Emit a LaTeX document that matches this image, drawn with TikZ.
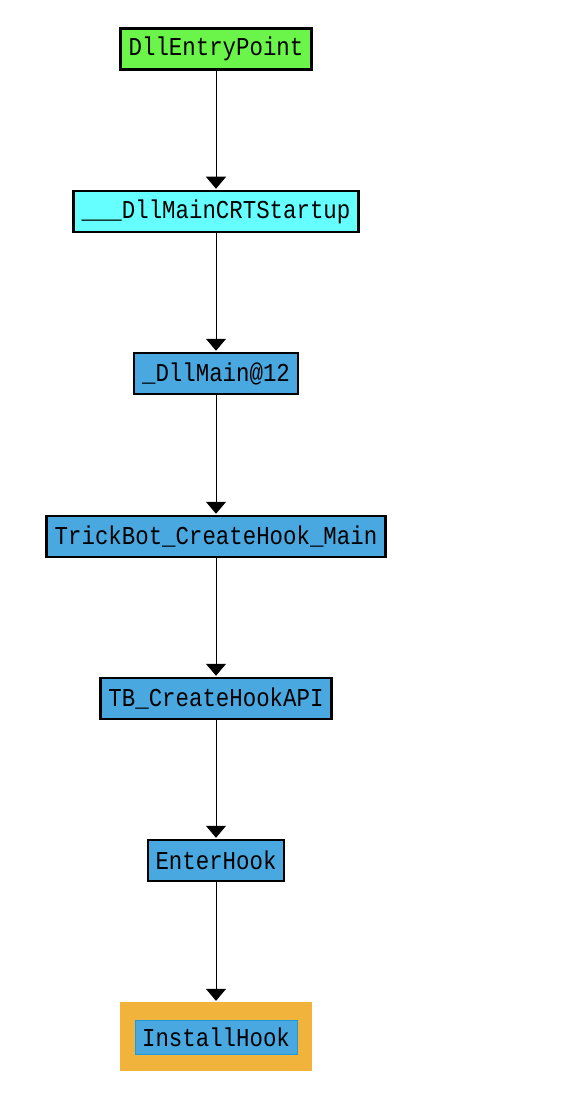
\documentclass[tikz,border=0pt]{standalone}
\usepackage{fontspec}
\newfontfamily\monofnt{Liberation Mono}
\usetikzlibrary{arrows.meta}
\definecolor{fgreen}{HTML}{6BF54A}
\definecolor{fcyan}{HTML}{66FFFF}
\definecolor{fblue}{HTML}{4AA8E0}
\definecolor{forange}{HTML}{F2B33D}
\definecolor{fblueedge}{HTML}{1C9BE0}
\newcommand{\tallt}[1]{\scalebox{1}[1.15]{#1}}
\begin{document}
\begin{tikzpicture}[x=1pt,y=-1pt,
  fn/.style={draw=black, line width=2.5pt, minimum height=41pt, inner xsep=7pt, inner ysep=0pt,
    font=\monofnt\fontsize{22.4pt}{24pt}\selectfont, anchor=center},
  conn/.style={draw=black, line width=1pt, -{Triangle[width=20pt,length=12pt]}, shorten >=1pt}]
\useasboundingbox (0,0) rectangle (586,1118);
\fill[white] (0,0) rectangle (586,1118);
\node[fn, fill=fgreen, minimum width=191pt] (n1) at (216,49) {\tallt{DllEntryPoint}};
\node[fn, fill=fcyan, minimum width=285pt] (n2) at (216,211.5) {\tallt{\_\_\_DllMainCRTStartup}};
\node[fn, fill=fblue, minimum width=164pt] (n3) at (216,373.5) {\tallt{\_DllMain@12}};
\node[fn, fill=fblue, minimum width=339pt] (n4) at (216,536.5) {\tallt{TrickBot\_CreateHook\_Main}};
\node[fn, fill=fblue, minimum width=231pt] (n5) at (216,698.5) {\tallt{TB\_CreateHookAPI}};
\node[fn, fill=fblue, minimum width=136pt] (n6) at (216,860.5) {\tallt{EnterHook}};
\node[fill=forange, minimum width=192pt, minimum height=69pt, inner sep=0pt] (n7o) at (216,1036.5) {};
\node[fn, draw=fblueedge, line width=0.8pt, fill=fblue, minimum width=158pt, minimum height=34pt] (n7) at (216,1037) {\tallt{InstallHook}};
\draw[conn] (n1.south) -- (n2.north);
\draw[conn] (n2.south) -- (n3.north);
\draw[conn] (n3.south) -- (n4.north);
\draw[conn] (n4.south) -- (n5.north);
\draw[conn] (n5.south) -- (n6.north);
\draw[conn] (n6.south) -- (n7o.north);
\end{tikzpicture}
\end{document}
